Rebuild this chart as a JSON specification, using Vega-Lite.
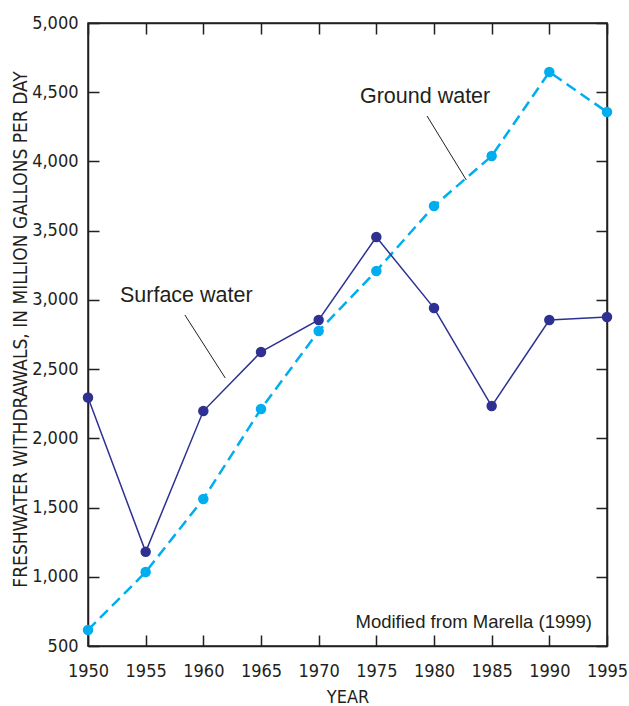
{
  "$schema": "https://vega.github.io/schema/vega-lite/v6.json",
  "width": 519,
  "height": 623,
  "autosize": "none",
  "padding": {"left": 88, "top": 23, "right": 22, "bottom": 60},
  "background": "white",
  "config": {
    "view": {"stroke": "#231f20", "strokeWidth": 1.5},
    "axis": {
      "labelFont": "Liberation Sans Narrow, DejaVu Sans Condensed, sans-serif",
      "titleFont": "Liberation Sans Narrow, DejaVu Sans Condensed, sans-serif",
      "labelFontSize": 18,
      "titleFontSize": 18,
      "labelColor": "#231f20",
      "titleColor": "#231f20",
      "titleFontWeight": "normal",
      "tickColor": "#231f20",
      "domainColor": "#231f20",
      "tickSize": -11,
      "tickWidth": 1.5,
      "domainWidth": 1.5,
      "grid": false
    }
  },
  "datasets": {
    "series": [
      {"year": 1950, "source": "Surface water", "mgd": 2295},
      {"year": 1955, "source": "Surface water", "mgd": 1180},
      {"year": 1960, "source": "Surface water", "mgd": 2197},
      {"year": 1965, "source": "Surface water", "mgd": 2624},
      {"year": 1970, "source": "Surface water", "mgd": 2855},
      {"year": 1975, "source": "Surface water", "mgd": 3454},
      {"year": 1980, "source": "Surface water", "mgd": 2941},
      {"year": 1985, "source": "Surface water", "mgd": 2233},
      {"year": 1990, "source": "Surface water", "mgd": 2855},
      {"year": 1995, "source": "Surface water", "mgd": 2876},
      {"year": 1950, "source": "Ground water", "mgd": 616},
      {"year": 1955, "source": "Ground water", "mgd": 1034},
      {"year": 1960, "source": "Ground water", "mgd": 1562},
      {"year": 1965, "source": "Ground water", "mgd": 2212},
      {"year": 1970, "source": "Ground water", "mgd": 2775},
      {"year": 1975, "source": "Ground water", "mgd": 3209},
      {"year": 1980, "source": "Ground water", "mgd": 3678},
      {"year": 1985, "source": "Ground water", "mgd": 4039},
      {"year": 1990, "source": "Ground water", "mgd": 4646},
      {"year": 1995, "source": "Ground water", "mgd": 4357}
    ],
    "labels": [
      {"text": "Surface water", "year": 1952.77, "mgd": 3028, "size": "big"},
      {"text": "Ground water", "year": 1973.58, "mgd": 4465, "size": "big"},
      {"text": "Modified from Marella (1999)", "year": 1993.7, "mgd": 673, "size": "small"}
    ],
    "leaders": [
      {"year": 1958.4, "mgd": 2891, "year2": 1961.9, "mgd2": 2436},
      {"year": 1979.4, "mgd": 4328, "year2": 1982.8, "mgd2": 3866}
    ]
  },
  "resolve": {"axis": {"x": "independent", "y": "independent"}},
  "layer": [
    {
      "data": {"name": "series"},
      "transform": [{"filter": "datum.source === 'Ground water'"}],
      "mark": {"type": "line", "color": "#00aeef", "strokeWidth": 2.5, "strokeDash": [11, 6]},
      "encoding": {
        "x": {"field": "year", "type": "quantitative", "scale": {"domain": [1950, 1995], "nice": false, "zero": false},
          "axis": {"title": "YEAR", "values": [1950, 1955, 1960, 1965, 1970, 1975, 1980, 1985, 1990, 1995], "format": "d", "labelPadding": 27, "labelFlush": false,
            "titleX": 259.5, "titleY": 51, "titleAlign": "center", "titleBaseline": "middle", "titleAnchor": "middle"}},
        "y": {"field": "mgd", "type": "quantitative", "scale": {"domain": [500, 5000], "nice": false, "zero": false},
          "axis": {"title": "FRESHWATER WITHDRAWALS, IN MILLION GALLONS PER DAY", "values": [500, 1000, 1500, 2000, 2500, 3000, 3500, 4000, 4500, 5000], "format": ",d", "labelPadding": 21, "labelFlush": false,
            "titleX": -68, "titleY": 306, "titleAngle": -90, "titleAlign": "center", "titleBaseline": "middle", "titleFontSize": 19}}
      }
    },
    {
      "data": {"name": "series"},
      "transform": [{"filter": "datum.source === 'Surface water'"}],
      "mark": {"type": "line", "color": "#2e3192", "strokeWidth": 1.5},
      "encoding": {
        "x": {"field": "year", "type": "quantitative",
          "axis": {"orient": "top", "title": null, "labels": false, "values": [1950, 1955, 1960, 1965, 1970, 1975, 1980, 1985, 1990, 1995]}},
        "y": {"field": "mgd", "type": "quantitative",
          "axis": {"orient": "right", "title": null, "labels": false, "values": [500, 1000, 1500, 2000, 2500, 3000, 3500, 4000, 4500, 5000]}}
      }
    },
    {
      "data": {"name": "series"},
      "mark": {"type": "circle", "size": 110, "opacity": 1},
      "encoding": {
        "x": {"field": "year", "type": "quantitative", "axis": null},
        "y": {"field": "mgd", "type": "quantitative", "axis": null},
        "color": {"field": "source", "type": "nominal", "scale": {"domain": ["Surface water", "Ground water"], "range": ["#2e3192", "#00aeef"]}, "legend": null}
      }
    },
    {
      "data": {"name": "leaders"},
      "mark": {"type": "rule", "color": "#231f20", "strokeWidth": 1},
      "encoding": {
        "x": {"field": "year", "type": "quantitative", "axis": null},
        "y": {"field": "mgd", "type": "quantitative", "axis": null},
        "x2": {"field": "year2"},
        "y2": {"field": "mgd2"}
      }
    },
    {
      "data": {"name": "labels"},
      "transform": [{"filter": "datum.size === 'big'"}],
      "mark": {"type": "text", "align": "left", "baseline": "middle", "font": "Liberation Sans, Arial, sans-serif", "fontSize": 21.5, "color": "#231f20"},
      "encoding": {
        "x": {"field": "year", "type": "quantitative", "axis": null},
        "y": {"field": "mgd", "type": "quantitative", "axis": null},
        "text": {"field": "text"}
      }
    },
    {
      "data": {"name": "labels"},
      "transform": [{"filter": "datum.size === 'small'"}],
      "mark": {"type": "text", "align": "right", "baseline": "middle", "font": "Liberation Sans, Arial, sans-serif", "fontSize": 18.5, "color": "#231f20"},
      "encoding": {
        "x": {"field": "year", "type": "quantitative", "axis": null},
        "y": {"field": "mgd", "type": "quantitative", "axis": null},
        "text": {"field": "text"}
      }
    }
  ]
}
